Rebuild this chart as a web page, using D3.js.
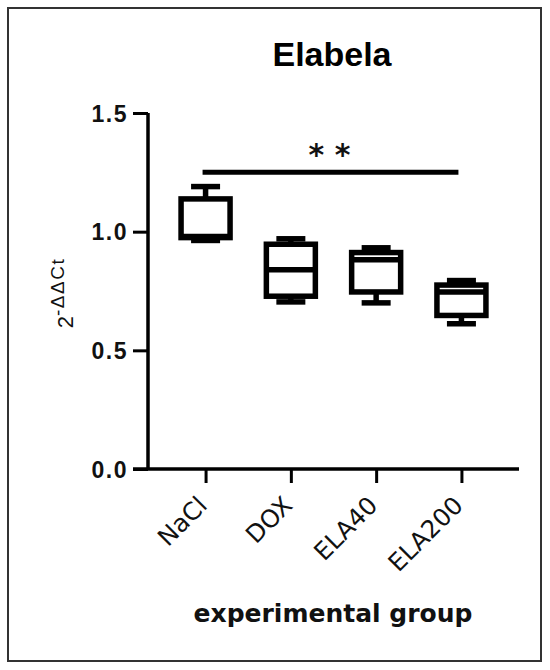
<!DOCTYPE html>
<html><head><meta charset="utf-8">
<script src="https://cdn.jsdelivr.net/npm/d3@7"></script>
<style>body{margin:0;background:#fff}svg{display:block}</style>
</head><body>
<script>
// ---- data ----
const categories = ["NaCl", "DOX", "ELA40", "ELA200"];
const whiskerMin = [0.963, 0.704, 0.700, 0.612];
const q1        = [0.975, 0.728, 0.746, 0.647];
const median    = [0.980, 0.840, 0.882, 0.746];
const q3        = [1.138, 0.947, 0.912, 0.775];
const whiskerMax = [1.190, 0.970, 0.932, 0.794];
const yTicks = [0.0, 0.5, 1.0, 1.5];
const sigFrom = "NaCl", sigTo = "ELA200", sigLevel = 1.25, sigText = "* *";
const title = "Elabela";
const xTitle = "experimental group";

const W = 550, H = 670;
const svg = d3.select("body").append("svg").attr("width", W).attr("height", H);

// frame
svg.append("rect").attr("x", 8).attr("y", 8).attr("width", 533).attr("height", 653)
  .attr("fill", "none").attr("stroke", "#333").attr("stroke-width", 2);

const x = d3.scalePoint().domain(categories).range([148, 519]).padding(0.675);
const y = d3.scaleLinear().domain([0, 1.5]).range([469, 113]);

// title
svg.append("text").attr("x", 332).attr("y", 66).attr("text-anchor", "middle")
  .attr("font-family", "Liberation Sans, Arial, sans-serif").attr("font-weight", "bold")
  .attr("font-size", 34).text(title);

// y axis
const yAxis = svg.append("g").attr("transform", "translate(148,0)")
  .call(d3.axisLeft(y).tickValues(yTicks).tickFormat(d3.format(".1f")).tickSize(15).tickPadding(5));
yAxis.select(".domain").attr("stroke", "#000").attr("stroke-width", 3.5).attr("d", `M0,${y(1.5)}V${y(0)}`);
yAxis.selectAll(".tick line").attr("stroke", "#000").attr("stroke-width", 3);
yAxis.selectAll(".tick text").attr("font-family", "Liberation Sans, Arial, sans-serif")
  .attr("font-weight", "bold").attr("font-size", 23).attr("letter-spacing", 1.5).attr("fill", "#111")
  .attr("dy", "0.35em");

// x axis
const xAxis = svg.append("g").attr("transform", `translate(0,${y(0)})`)
  .call(d3.axisBottom(x).tickSize(14).tickFormat(""));
xAxis.select(".domain").attr("stroke", "#000").attr("stroke-width", 3.5).attr("d", `M133,0H519`);
xAxis.selectAll(".tick line").attr("stroke", "#000").attr("stroke-width", 3);

// category labels
svg.append("g").selectAll("text").data(categories).join("text")
  .attr("transform", d => `translate(${x(d) + 3},${507}) rotate(-45)`)
  .attr("text-anchor", "end")
  .attr("font-family", "DejaVu Sans, Verdana, sans-serif").attr("font-size", 24.5)
  .attr("fill", "#111").text(d => d);

// x title
svg.append("text").attr("x", 333).attr("y", 622).attr("text-anchor", "middle")
  .attr("font-family", "DejaVu Sans, Verdana, sans-serif").attr("font-weight", "bold")
  .attr("font-size", 25).attr("fill", "#111").text(xTitle);

// y title
const yt = svg.append("text").attr("transform", "translate(73,293) rotate(-90)")
  .attr("text-anchor", "middle").attr("font-family", "Liberation Sans, Arial, sans-serif")
  .attr("fill", "#111");
yt.append("tspan").attr("font-size", 22).text("2");
yt.append("tspan").attr("font-size", 19).attr("dy", -9).attr("letter-spacing", 1.5).text("-ΔΔCt");

// boxes
const boxW = 49, capW = 29, sw = 5.5;
const g = svg.append("g").attr("stroke", "#000").attr("stroke-width", sw).attr("fill", "none");
categories.forEach((c, i) => {
  const cx = x(c);
  g.append("line").attr("x1", cx).attr("x2", cx).attr("y1", y(whiskerMax[i])).attr("y2", y(q3[i]));
  g.append("line").attr("x1", cx).attr("x2", cx).attr("y1", y(q1[i])).attr("y2", y(whiskerMin[i]));
  g.append("line").attr("x1", cx - capW / 2).attr("x2", cx + capW / 2).attr("y1", y(whiskerMax[i])).attr("y2", y(whiskerMax[i]));
  g.append("line").attr("x1", cx - capW / 2).attr("x2", cx + capW / 2).attr("y1", y(whiskerMin[i])).attr("y2", y(whiskerMin[i]));
  g.append("rect").attr("x", cx - boxW / 2).attr("width", boxW)
    .attr("y", y(q3[i])).attr("height", y(q1[i]) - y(q3[i])).attr("fill", "#fff");
  g.append("line").attr("x1", cx - boxW / 2).attr("x2", cx + boxW / 2).attr("y1", y(median[i])).attr("y2", y(median[i]));
});

// significance bar
svg.append("line").attr("x1", x(sigFrom) - 3).attr("x2", x(sigTo) - 3)
  .attr("y1", y(sigLevel)).attr("y2", y(sigLevel)).attr("stroke", "#000").attr("stroke-width", 5);
svg.append("text").attr("x", (x(sigFrom) + x(sigTo)) / 2 - 4).attr("y", 165).attr("text-anchor", "middle")
  .attr("font-family", "DejaVu Sans, sans-serif").attr("font-weight", "bold").attr("font-size", 30)
  .attr("fill", "#111").text(sigText);
</script>
</body></html>
